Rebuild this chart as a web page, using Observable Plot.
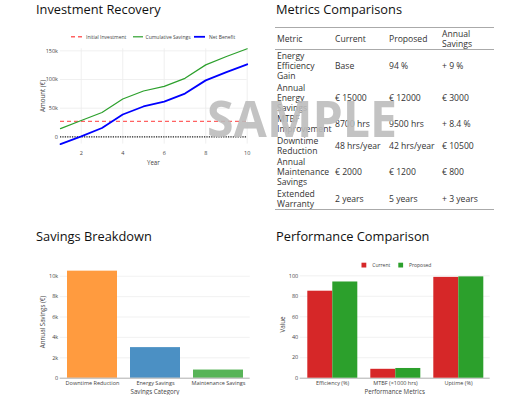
<!DOCTYPE html>
<html>
<head>
<meta charset="utf-8">
<script src="https://cdn.jsdelivr.net/npm/d3@7"></script>
<script src="https://cdn.jsdelivr.net/npm/@observablehq/plot@0.6"></script>
<style>
  html, body { margin: 0; padding: 0; background: #fff; }
  body { width: 527px; height: 395px; position: relative; overflow: hidden; font-family: "Open Sans", sans-serif; }
  .panel { position: absolute; }
  #tbl { position: absolute; left: 275px; top: 27px; width: 219px; border-collapse: collapse; table-layout: fixed;
         font-family: "Open Sans", sans-serif; font-size: 8.6px; line-height: 10.2px; color: #333;
         border-top: 1.5px solid #aaa; border-bottom: 1.5px solid #aaa; }
  #tbl th, #tbl td { text-align: left; font-weight: normal; vertical-align: middle; padding: 0.5px 2px; white-space: normal; overflow: visible; }
  #tbl thead tr { border-bottom: 1.5px solid #aaa; }
  #overlay { position: absolute; left: 0; top: 0; z-index: 10; pointer-events: none; }
</style>
</head>
<body>
<div id="p1" class="panel" style="left:0;top:0"></div>
<table id="tbl"><colgroup><col style="width:58px"><col style="width:54px"><col style="width:53px"><col style="width:54px"></colgroup><thead></thead><tbody></tbody></table>
<div id="p3bg" class="panel" style="left:0;top:200px"></div>
<div id="p4bg" class="panel" style="left:265px;top:200px"></div>
<div id="p4" class="panel" style="left:265px;top:200px"></div>
<svg id="overlay" width="527" height="395"></svg>
<script>
// ---------- Data ----------
const years = [1, 2, 3, 4, 5, 6, 7, 8, 9, 10];
const cumulativeSavings = [14500, 28500, 42500, 66000, 80000, 88000, 102000, 125500, 140000, 153500];
const netBenefit = [-12500, 1000, 15500, 39000, 53000, 61500, 75500, 98500, 113000, 126500];
const initialInvestment = 27000;

const tableHeader = ["Metric", "Current", "Proposed", "Annual Savings"];
const tableMetric = ["Energy Efficiency Gain", "Annual Energy Savings", "MTBF Improvement", "Downtime Reduction", "Annual Maintenance Savings", "Extended Warranty"];
const tableCurrent = ["Base", "€ 15000", "8700 hrs", "48 hrs/year", "€ 2000", "2 years"];
const tableProposed = ["94 %", "€ 12000", "9500 hrs", "42 hrs/year", "€ 1200", "5 years"];
const tableSavings = ["+ 9 %", "€ 3000", "+ 8.4 %", "€ 10500", "€ 800", "+ 3 years"];

const savingsCategories = ["Downtime Reduction", "Energy Savings", "Maintenance Savings"];
const savingsValues = [10500, 3000, 800];
const savingsColors = ["#ff9b3f", "#4b90c4", "#58b458"];

const perfMetrics = ["Efficiency (%)", "MTBF (×1000 hrs)", "Uptime (%)"];
const perfCurrent = [85, 8.7, 98.5];
const perfProposed = [94, 9.5, 99];
const perfSeries = ["Current", "Proposed"];
const perfColors = ["#d62728", "#2ca02c"];

// ---------- helpers ----------
const baseStyle = {fontFamily: "Open Sans, sans-serif", fontSize: "5.5px", color: "#444", background: "transparent", overflow: "visible"};
const kFmt = d => d === 0 ? "0" : (d / 1000) + "k";

// ---------- Panel 1: Investment Recovery ----------
const cumData = years.map((y, i) => ({year: y, value: cumulativeSavings[i]}));
const netData = years.map((y, i) => ({year: y, value: netBenefit[i]}));
const yExt = d3.extent([...cumulativeSavings, ...netBenefit]);
const p1Ticks = [0, 50000, 100000, 150000];
const p1XTicks = [2, 4, 6, 8, 10];
document.getElementById("p1").append(Plot.plot({
  width: 260, height: 175,
  marginLeft: 60, marginRight: 13.3, marginTop: 48.3, marginBottom: 31.4,
  style: baseStyle,
  x: {domain: d3.extent(years), ticks: p1XTicks, tickSize: 0, tickPadding: 7.4, label: null},
  y: {domain: yExt, ticks: p1Ticks, tickFormat: kFmt, tickSize: 0, tickPadding: 2.5, label: null},
  marks: [
    Plot.ruleX(p1XTicks, {stroke: "#ececec", strokeWidth: 0.8}),
    Plot.ruleY(p1Ticks, {stroke: "#ececec", strokeWidth: 0.8}),
    Plot.ruleY([0], {stroke: "#222", strokeWidth: 1.1, strokeDasharray: "1.2,1.2"}),
    Plot.ruleY([initialInvestment], {stroke: "#ff6262", strokeWidth: 1.4, strokeDasharray: "4,3"}),
    Plot.line(cumData, {x: "year", y: "value", stroke: "#2ca02c", strokeWidth: 1.2}),
    Plot.line(netData, {x: "year", y: "value", stroke: "#0000ff", strokeWidth: 1.8})
  ]
}));

// ---------- Panel 2: table ----------
const thead = document.querySelector("#tbl thead");
const htr = document.createElement("tr");
tableHeader.forEach(h => { const th = document.createElement("th"); th.textContent = h; htr.append(th); });
thead.append(htr);
const tbody = document.querySelector("#tbl tbody");
tableMetric.forEach((m, i) => {
  const tr = document.createElement("tr");
  [m, tableCurrent[i], tableProposed[i], tableSavings[i]].forEach(v => {
    const td = document.createElement("td"); td.textContent = v; tr.append(td);
  });
  tbody.append(tr);
});

// ---------- Panel 3: Savings Breakdown ----------
const savData = savingsCategories.map((c, i) => ({category: c, value: savingsValues[i]}));
const savTicks = [0, 2000, 4000, 6000, 8000, 10000];
document.getElementById("p3bg").append(Plot.plot({
  width: 260, height: 195,
  marginLeft: 59.7, marginRight: 10.3, marginTop: 65.3, marginBottom: 17.3,
  style: baseStyle,
  x: {domain: savingsCategories, paddingInner: 0.2, paddingOuter: 0.1, tickSize: 0, tickPadding: 2.6, label: null},
  y: {domain: [0, d3.max(savingsValues) * 1.05], ticks: savTicks, tickFormat: kFmt, tickSize: 0, tickPadding: 2, label: null},
  color: {domain: savingsCategories, range: savingsColors},
  marks: [
    Plot.ruleY(savTicks.slice(1), {stroke: "#eeeeee", strokeWidth: 0.8}),
    Plot.barY(savData, {x: "category", y: "value", fill: "category", inset: 0}),
    Plot.ruleY([0], {stroke: "#999", strokeWidth: 0.8})
  ]
}));

// ---------- Panel 4: Performance Comparison ----------
const perfData = perfMetrics.flatMap((m, i) => [
  {metric: m, series: perfSeries[0], value: perfCurrent[i]},
  {metric: m, series: perfSeries[1], value: perfProposed[i]}
]);
const perfMax = d3.max([...perfCurrent, ...perfProposed]) * 1.05;
const perfTicks = [0, 20, 40, 60, 80, 100];
const p4common = {width: 262, height: 195, marginLeft: 34.7, marginRight: 37.3, marginTop: 71.3, marginBottom: 17.3, style: baseStyle};
document.getElementById("p4bg").append(Plot.plot({
  ...p4common,
  x: {domain: [0, 1], axis: null},
  y: {domain: [0, perfMax], ticks: perfTicks, tickSize: 0, tickPadding: 2, label: null},
  marks: [
    Plot.ruleY(perfTicks.slice(1), {stroke: "#eeeeee", strokeWidth: 0.8}),
    Plot.ruleY([0], {stroke: "#999", strokeWidth: 0.8})
  ]
}));
document.getElementById("p4").append(Plot.plot({
  ...p4common,
  facet: {data: perfData, x: "metric"},
  fx: {domain: perfMetrics, paddingInner: 0.2, paddingOuter: 0.1, axis: "bottom", tickSize: 0, tickPadding: 2.6, label: null},
  x: {domain: perfSeries, padding: 0, axis: null},
  y: {domain: [0, perfMax], axis: null},
  color: {domain: perfSeries, range: perfColors},
  marks: [
    Plot.barY(perfData, {x: "series", y: "value", fill: "series", inset: 0})
  ]
}));

// ---------- Overlay: titles, axis titles, legends, watermark ----------
const ov = d3.select("#overlay");
const titleStyle = s => s.attr("font-family", "Open Sans, sans-serif").attr("font-size", 12.8).attr("fill", "#111");
[["Investment Recovery", 36, 13.6], ["Metrics Comparisons", 276, 13.6], ["Savings Breakdown", 36, 240.9], ["Performance Comparison", 276, 240.9]]
  .forEach(([t, x, y]) => ov.append("text").text(t).attr("x", x).attr("y", y).call(titleStyle));

const axTitle = (t, x, y, rot) => {
  const e = ov.append("text").text(t).attr("font-family", "Open Sans, sans-serif").attr("font-size", 6.2)
    .attr("fill", "#444").attr("text-anchor", "middle").attr("dominant-baseline", "central");
  if (rot) e.attr("transform", `translate(${x},${y}) rotate(-90)`); else e.attr("x", x).attr("y", y);
};
axTitle("Year", 153.4, 162, false);
axTitle("Amount (€)", 42, 96, true);
axTitle("Savings Category", 155, 391.5, false);
axTitle("Annual Savings (€)", 42, 322, true);
axTitle("Performance Metrics", 394.7, 391.5, false);
axTitle("Value", 282.3, 324.5, true);

// legend panel 1
const legTxt = (t, x, y) => ov.append("text").text(t).attr("x", x).attr("y", y).attr("font-family", "Open Sans, sans-serif")
  .attr("font-size", 5).attr("fill", "#444").attr("dominant-baseline", "central");
ov.append("line").attr("x1", 71).attr("x2", 83).attr("y1", 36.8).attr("y2", 36.8).attr("stroke", "#ff6262").attr("stroke-width", 1.4).attr("stroke-dasharray", "4,3");
legTxt("Initial Investment", 86, 36.8);
ov.append("line").attr("x1", 133).attr("x2", 143).attr("y1", 36.8).attr("y2", 36.8).attr("stroke", "#2ca02c").attr("stroke-width", 1.2);
legTxt("Cumulative Savings", 145.5, 36.8);
ov.append("line").attr("x1", 194).attr("x2", 205).attr("y1", 36.8).attr("y2", 36.8).attr("stroke", "#0000ff").attr("stroke-width", 1.8);
legTxt("Net Benefit", 209, 36.8);

// legend panel 4
ov.append("rect").attr("x", 361.5).attr("y", 262.7).attr("width", 4.8).attr("height", 4.8).attr("fill", perfColors[0]);
legTxt(perfSeries[0], 372.3, 265.1);
ov.append("rect").attr("x", 398.3).attr("y", 262.7).attr("width", 4.8).attr("height", 4.8).attr("fill", perfColors[1]);
legTxt(perfSeries[1], 409, 265.1);

// watermark
ov.append("text").text("SAMPLE").attr("x", 207).attr("y", 136.7).attr("font-family", "Open Sans, sans-serif")
  .attr("font-weight", "bold").attr("font-size", 51).attr("fill", "rgb(188,188,188)").attr("fill-opacity", 0.9)
  .attr("textLength", 190).attr("lengthAdjust", "spacingAndGlyphs");
</script>
</body>
</html>
